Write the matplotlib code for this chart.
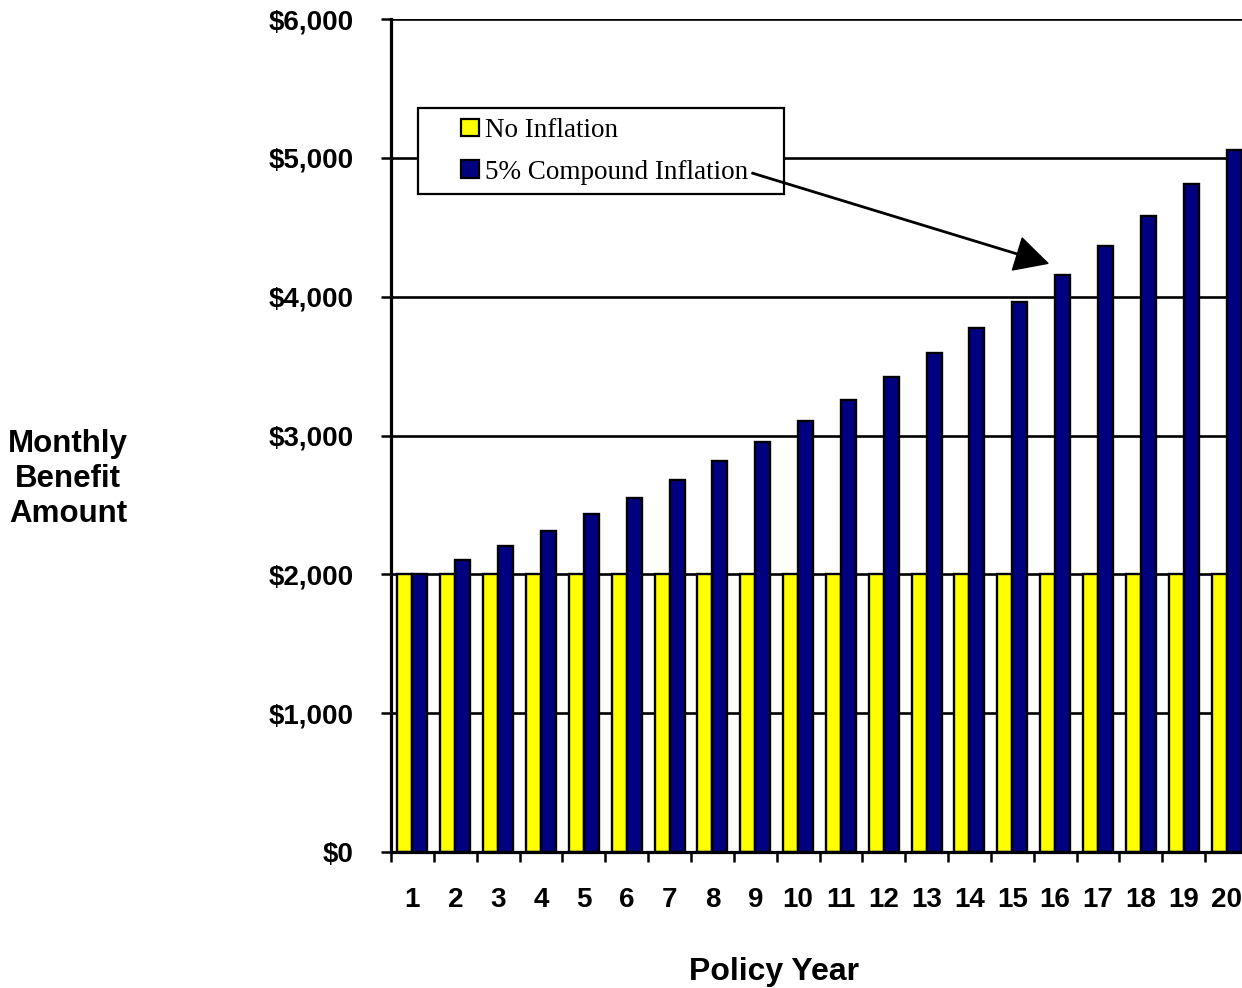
import matplotlib
matplotlib.use("Agg")
import matplotlib.pyplot as plt
import numpy as np
from matplotlib.patches import Rectangle
from matplotlib.ticker import FixedLocator, NullFormatter, FixedFormatter

# ---- data ----
years = ['1', '2', '3', '4', '5', '6', '7', '8', '9', '10',
         '11', '12', '13', '14', '15', '16', '17', '18', '19', '20']
no_inflation = [2000, 2000, 2000, 2000, 2000, 2000, 2000, 2000, 2000, 2000,
                2000, 2000, 2000, 2000, 2000, 2000, 2000, 2000, 2000, 2000]
compound_inflation = [2000, 2100, 2205, 2315, 2431, 2553, 2680, 2814, 2955, 3103,
                      3258, 3421, 3592, 3771, 3960, 4158, 4366, 4584, 4813, 5054]
series_labels = ['No Inflation', '5% Compound Inflation']
y_ticks = [0, 1000, 2000, 3000, 4000, 5000, 6000]
y_tick_labels = ['$0', '$1,000', '$2,000', '$3,000', '$4,000', '$5,000', '$6,000']

W, H = 1242, 988
fig = plt.figure(figsize=(W / 100, H / 100), dpi=100)

def fx(x):
    return x / W

def fy(y):
    return 1 - y / H

ax = fig.add_axes([fx(391), fy(852), (1248 - 391) / W, (852 - 19) / H])

sans = 'Liberation Sans'
serif = 'Liberation Serif'

x = np.arange(len(years))
bw = 0.35
b1 = ax.bar(x - bw / 2, no_inflation, bw, color='#FFFF00', edgecolor='black',
            linewidth=1.7, label=series_labels[0], zorder=2)
b2 = ax.bar(x + bw / 2, compound_inflation, bw, color='#000080', edgecolor='black',
            linewidth=1.7, label=series_labels[1], zorder=2)

ax.set_xlim(-0.5, len(years) - 0.5)
ax.set_ylim(0, 6000)

ax.set_axisbelow(True)
ax.yaxis.grid(True, color='black', linewidth=1.9)

ax.set_yticks(y_ticks)
ax.set_yticklabels(y_tick_labels, fontfamily=sans, fontweight='bold', fontsize=20)
ax.tick_params(axis='y', direction='out', length=7, width=1.8, pad=20)

# x: tick marks at category boundaries, labels at centres
ax.xaxis.set_major_locator(FixedLocator(np.arange(-0.5, len(years) + 0.5, 1.0)))
ax.xaxis.set_major_formatter(NullFormatter())
ax.xaxis.set_minor_locator(FixedLocator(x))
ax.xaxis.set_minor_formatter(FixedFormatter(years))
ax.tick_params(axis='x', which='major', direction='out', length=7, width=1.8)
ax.tick_params(axis='x', which='minor', length=0, pad=25)
for lab in ax.get_xticklabels(minor=True):
    lab.set_fontfamily(sans)
    lab.set_fontweight('bold')
    lab.set_fontsize(20)

for s in ['top', 'right']:
    ax.spines[s].set_visible(False)
for s in ['left', 'bottom']:
    ax.spines[s].set_linewidth(2.3)
    ax.spines[s].set_zorder(3)

# legend frame (drawn separately to match the wide padding)
frame = Rectangle((fx(418), fy(194)), (784 - 418) / W, (194 - 108) / H,
                  transform=fig.transFigure, facecolor='white', edgecolor='black',
                  linewidth=1.6, zorder=4)
ax.add_artist(frame)

leg = ax.legend(handles=[b1, b2], labels=series_labels, loc='upper left',
                bbox_to_anchor=(fx(461), fy(118)), bbox_transform=fig.transFigure,
                frameon=False, borderpad=0, borderaxespad=0,
                handlelength=0.68, handleheight=0.62, handletextpad=0.22,
                labelspacing=0.62, prop={'family': serif, 'size': 19.5})
leg.set_zorder(5)
for h in leg.legend_handles:
    h.set_linewidth(1.6)

ax.annotate('', xy=(14.83, 4240), xycoords='data',
            xytext=(752, H - 173), textcoords='figure pixels',
            arrowprops=dict(facecolor='black', edgecolor='black', width=1.0,
                            headwidth=24, headlength=23, shrink=0),
            zorder=6)

fig.text(fx(774), fy(980), 'Policy Year', ha='center', va='baseline',
         fontfamily=sans, fontweight='bold', fontsize=23)
fig.text(fx(68), fy(479), 'Monthly\nBenefit\nAmount', ha='center', va='center',
         multialignment='center', linespacing=1.2,
         fontfamily=sans, fontweight='bold', fontsize=22.5)

fig.savefig('out.png', dpi=100)
